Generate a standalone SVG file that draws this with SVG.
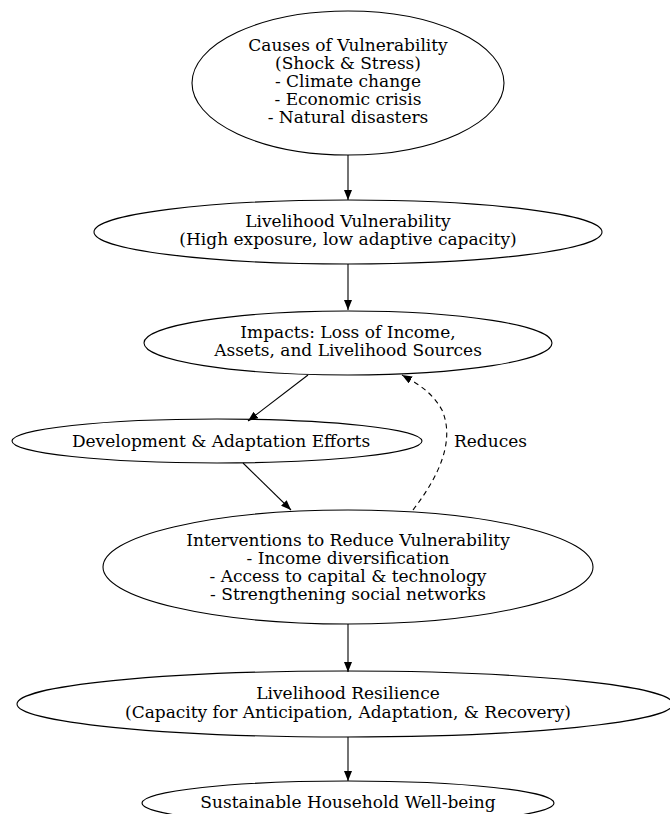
<svg xmlns="http://www.w3.org/2000/svg" width="670" height="814" viewBox="0 0 670 814">
<style>
.n ellipse{fill:none;stroke:#000;stroke-width:1.1}
.n text{font-family:"DejaVu Serif",serif;font-size:17px;fill:#000;text-anchor:middle}
.e path{fill:none;stroke:#000;stroke-width:1.1}
.lbl{font-family:"DejaVu Serif",serif;font-size:17px;fill:#000}
</style>
<defs>
<marker id="ah" markerWidth="10" markerHeight="8" refX="10" refY="4" orient="auto" markerUnits="userSpaceOnUse">
<path d="M0,0 L10,4 L0,8 Z" fill="#000"/>
</marker>
</defs>
<rect width="670" height="814" fill="#fff"/>
<g id="edges" class="e">
<path d="M348,155 L348,200" marker-end="url(#ah)"/>
<path d="M348,264 L348,310" marker-end="url(#ah)"/>
<path d="M308,375 L248,421" marker-end="url(#ah)"/>
<path d="M243,463 L291,510" marker-end="url(#ah)"/>
<path d="M413,510 C440,475 455,440 442,410 C432,392 418,384 402,375" stroke-dasharray="5,4" marker-end="url(#ah)"/>
<path d="M348,624 L348,672" marker-end="url(#ah)"/>
<path d="M348,737 L348,781" marker-end="url(#ah)"/>
<text class="lbl" x="454" y="447">Reduces</text>
</g>
<g id="causes" class="n">
<ellipse cx="348" cy="83" rx="156" ry="72"/>
<text x="348" y="51">Causes of Vulnerability</text>
<text x="348" y="69">(Shock &amp; Stress)</text>
<text x="348" y="87">- Climate change</text>
<text x="348" y="105">- Economic crisis</text>
<text x="348" y="123">- Natural disasters</text>
</g>
<g id="vulnerability" class="n">
<ellipse cx="348" cy="232" rx="254" ry="32"/>
<text x="348" y="227">Livelihood Vulnerability</text>
<text x="348" y="245">(High exposure, low adaptive capacity)</text>
</g>
<g id="impacts" class="n">
<ellipse cx="348" cy="343" rx="204" ry="32"/>
<text x="348" y="338">Impacts: Loss of Income,</text>
<text x="348" y="356">Assets, and Livelihood Sources</text>
</g>
<g id="development" class="n">
<ellipse cx="217" cy="441" rx="205" ry="22"/>
<text x="221" y="447">Development &amp; Adaptation Efforts</text>
</g>
<g id="interventions" class="n">
<ellipse cx="348" cy="567" rx="245" ry="57"/>
<text x="348" y="546">Interventions to Reduce Vulnerability</text>
<text x="348" y="564">- Income diversification</text>
<text x="348" y="582">- Access to capital &amp; technology</text>
<text x="348" y="600">- Strengthening social networks</text>
</g>
<g id="resilience" class="n">
<ellipse cx="345" cy="704" rx="328" ry="33"/>
<text x="348" y="699">Livelihood Resilience</text>
<text x="348" y="718">(Capacity for Anticipation, Adaptation, &amp; Recovery)</text>
</g>
<g id="wellbeing" class="n">
<ellipse cx="348" cy="803" rx="206" ry="22"/>
<text x="348" y="808">Sustainable Household Well-being</text>
</g>
</svg>
